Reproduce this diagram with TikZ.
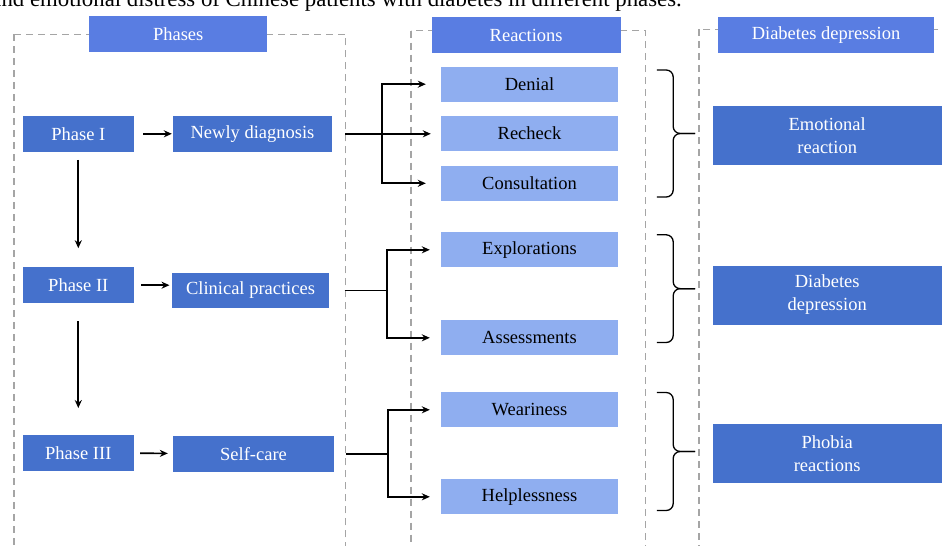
\documentclass[tikz,border=0pt]{standalone}
\usepackage{fontspec}
\setmainfont{Liberation Serif}
\usepackage{tikz}
\usetikzlibrary{positioning}
\usetikzlibrary{arrows.meta}
\definecolor{hdrblue}{RGB}{89,125,226}
\definecolor{darkblue}{RGB}{69,113,204}
\definecolor{lightblue}{RGB}{143,174,240}
\definecolor{framegray}{RGB}{165,165,165}
\newcommand{\drawbrace}[2]{%
  \path (#1) -- (#2) coordinate[midway] (bm);
  \draw[bracket] (#1) -- ++(16.3,0) |- ([xshift=38.3pt]bm);
  \draw[bracket] (#2) -- ++(16.3,0) |- ([xshift=38.3pt]bm);
}

\begin{document}
\begin{tikzpicture}[
x=1pt, y=-1pt,
every node/.style={
  font=\fontsize{18.5}{23}\selectfont,
  inner sep=0pt
  },
hdrbox/.style={fill=hdrblue, text=white, minimum height=35.5pt},
phasebox/.style={fill=darkblue, text=white, minimum height=35.5pt},
reactbox/.style={fill=lightblue, text=black, minimum width=177pt, minimum height=35pt},
outbox/.style={fill=darkblue, text=white, align=center, minimum width=229pt, minimum height=59pt},
frame/.style={draw=framegray, line width=1.3pt, dash pattern=on 7pt off 5pt},
conn/.style={line width=1.7pt},
arr/.style={conn, -{Stealth[length=8pt,width=7pt]}},
bracket/.style={line width=1.3pt, rounded corners=7pt}
]
\useasboundingbox (0,0) rectangle (943,546);

\node[anchor=base east, font=\fontsize{22.8}{26}\selectfont] (caption) at (682,6)
  {and emotional distress of Chinese patients with diabetes in different phases.};

% dashed columns
\draw[frame] (14,34.3) rectangle (345.7,570);
\draw[frame] (411,30.7) rectangle (645.7,570);
\draw[frame] (699,29.3) rectangle (980,570);

\node[hdrbox, minimum width=178.3pt] (hphases) at (178.2,33.8) {Phases};
\node[hdrbox, minimum width=189pt] (hreact) at (526.2,35) {Reactions};
\node[hdrbox, minimum width=216.6pt] (hdepr) at (826,35) {Diabetes depression};

% phases
\foreach \Num/\Y/\Lbl in {1/133.8/I, 2/285.2/II, 3/453/III}
  \node[phasebox, minimum width=111.3pt] (p\Num) at (78.3,\Y) {Phase \Lbl};
\node[phasebox, minimum width=159pt] (newly) at (252.5,133.8) {Newly diagnosis};
\node[phasebox, minimum width=157.6pt] (clinical) at (250.5,290.5) {Clinical practices};
\node[phasebox, minimum width=161pt] (selfcare) at (253.5,453.8) {Self-care};

% reactions
\foreach \Name/\Y/\Text in {denial/84.2/Denial, recheck/133.5/Recheck,
    consult/183.3/Consultation, explor/249.8/Explorations,
    assess/337.8/Assessments, weari/409.8/Weariness, helpless/496.8/Helplessness}
  \node[reactbox] (\Name) at (529.5,\Y) {\Text};

% outcomes
\node[outbox] (emo) at (827.2,135.3) {Emotional\\reaction};
\node[outbox] (diab) at (827.2,295) {Diabetes\\depression};
\node[outbox] (phobia) at (827.2,453.8) {Phobia\\reactions};

\draw[arr, shorten <=9pt, shorten >=1pt] (p1) -- (newly);
\draw[arr, shorten <=7pt, shorten >=2pt] (p2.east) -- (p2.east -| clinical.west);
\draw[arr, shorten <=6pt, shorten >=5pt] (p3) -- (selfcare);
\draw[arr, shorten <=8pt, shorten >=19pt] (p1) -- (p2);
\draw[arr, shorten <=18pt, shorten >=27pt] (p2) -- (p3);

\coordinate (j1) at ([xshift=50pt]newly.east);
\coordinate (j2) at ([xshift=57.4pt]clinical.east);
\coordinate (j3) at ([xshift=53.7pt]selfcare.east);

\draw[arr, shorten <=13pt, shorten >=10pt] (newly.east) -- (newly.east -| recheck.west);
\draw[arr, shorten >=15pt] (j1) |- (denial.west);
\draw[arr, shorten >=15pt] (j1) |- (consult.west);

\draw[conn, shorten <=15pt] (clinical.east) -- (j2);
\draw[arr, shorten >=11pt] (j2) |- (explor.west);
\draw[arr, shorten >=11pt] (j2) |- (assess.west);

\draw[conn, shorten <=12pt] (selfcare.east) -- (j3);
\draw[arr, shorten >=11pt] (j3) |- (weari.west);
\draw[arr, shorten >=11pt] (j3) |- (helpless.west);

% braces
\coordinate (b1t) at ([xshift=38.7pt,yshift=-3.5pt]denial.north east);
\coordinate (b1b) at ([xshift=38.7pt,yshift=4pt]consult.south east);
\coordinate (b2t) at ([xshift=38.7pt,yshift=-2.7pt]explor.north east);
\coordinate (b2b) at ([xshift=38.7pt,yshift=13pt]assess.south east);
\coordinate (b3t) at ([xshift=38.7pt,yshift=-0.4pt]weari.north east);
\coordinate (b3b) at ([xshift=38.7pt,yshift=4pt]helpless.south east);
\drawbrace{b1t}{b1b}
\drawbrace{b2t}{b2b}
\drawbrace{b3t}{b3b}
\end{tikzpicture}
\end{document}
